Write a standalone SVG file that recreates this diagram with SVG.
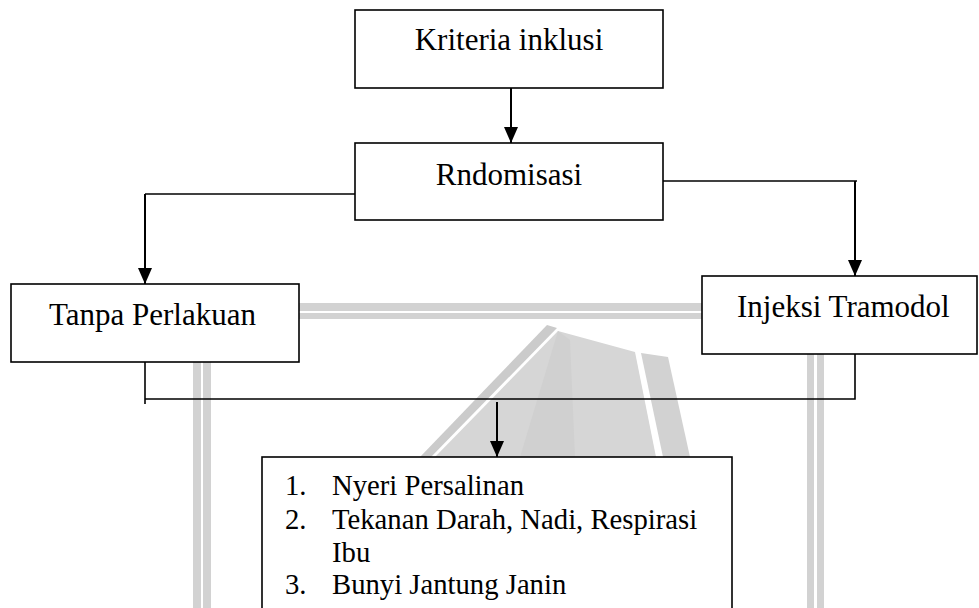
<svg xmlns="http://www.w3.org/2000/svg" width="979" height="608" viewBox="0 0 979 608">
<style>
  .box { fill: #ffffff; stroke: #000000; stroke-width: 1.6; }
  .lbl { font-family: "Liberation Serif", "Times New Roman", serif; font-size: 31px; fill: #000000; }
  .lst { font-family: "Liberation Serif", "Times New Roman", serif; font-size: 28.7px; fill: #000000; }
  .wm { fill: #d2d2d2; }
  .conn { fill: none; stroke: #000000; stroke-width: 1.6; }
  .arr { fill: none; stroke: #000000; stroke-width: 2; marker-end: url(#ah); }
</style>
<defs>
  <marker id="ah" viewBox="0 0 16 14" refX="16" refY="7" markerWidth="16" markerHeight="14" markerUnits="userSpaceOnUse" orient="auto">
    <path d="M0,0 L16,7 L0,14 Z" fill="#000000"/>
  </marker>
</defs>
<rect x="0" y="0" width="979" height="608" fill="#ffffff"/>
<g id="watermark">
  <rect class="wm" x="193" y="303" width="631" height="8"/>
  <rect class="wm" x="193" y="313" width="631" height="6"/>
  <rect class="wm" x="193" y="303" width="8" height="305"/>
  <rect class="wm" x="203" y="303" width="8" height="305"/>
  <rect class="wm" x="807" y="303" width="7" height="305"/>
  <rect class="wm" x="817" y="303" width="7" height="305"/>
  <polygon fill="#cbcbcb" points="420,457 547,325 557,328 431,457"/>
  <polygon fill="#d6d6d6" points="435,457 558,331 635,352 656,457"/>
  <polygon fill="#d0d0d0" points="558,331 570,340 575,457 520,457"/>
  <polygon fill="#d2d2d2" points="641,353 668,357 690,457 663,457"/>
</g>
<g id="connectors">
  <line class="arr" x1="511" y1="88" x2="511" y2="143"/>
  <polyline class="conn" points="355,194 145,194"/>
  <line class="arr" x1="145" y1="194" x2="145" y2="284"/>
  <polyline class="conn" points="663,181 857,181"/>
  <line class="arr" x1="855" y1="181" x2="855" y2="276"/>
  <polyline class="conn" points="145,362 145,404"/>
  <polyline class="conn" points="145,399 855,399 855,354"/>
  <line class="arr" x1="497" y1="402" x2="497" y2="457"/>
</g>
<g id="kriteria">
  <rect class="box" x="355" y="10" width="308" height="78"/>
  <text class="lbl" x="509" y="50" text-anchor="middle">Kriteria inklusi</text>
</g>
<g id="randomisasi">
  <rect class="box" x="355" y="143" width="308" height="77"/>
  <text class="lbl" x="509" y="185" text-anchor="middle">Rndomisasi</text>
</g>
<g id="tanpa">
  <rect class="box" x="11" y="284" width="288" height="78"/>
  <text class="lbl" x="49" y="325">Tanpa Perlakuan</text>
</g>
<g id="injeksi">
  <rect class="box" x="702" y="276" width="275" height="78"/>
  <text class="lbl" x="737" y="317">Injeksi Tramodol</text>
</g>
<g id="outcome">
  <rect class="box" x="262" y="457" width="470" height="160"/>
  <text class="lst" x="285" y="495">1.</text>
  <text class="lst" x="332" y="495">Nyeri Persalinan</text>
  <text class="lst" x="285" y="529">2.</text>
  <text class="lst" x="332" y="529">Tekanan Darah, Nadi, Respirasi</text>
  <text class="lst" x="332" y="562">Ibu</text>
  <text class="lst" x="285" y="594">3.</text>
  <text class="lst" x="332" y="594">Bunyi Jantung Janin</text>
</g>
</svg>
